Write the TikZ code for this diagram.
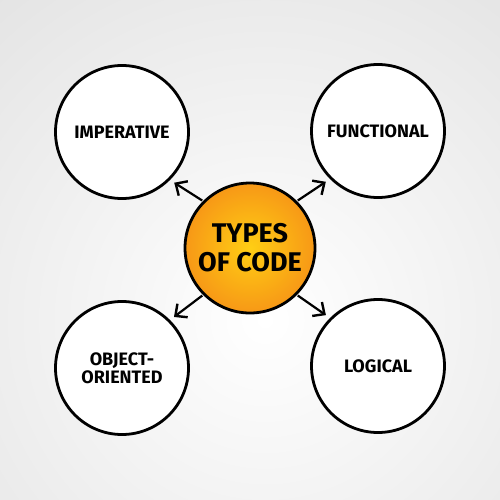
\documentclass[tikz,border=0pt]{standalone}
\usepackage{fontspec}
\setmainfont{Fira Sans}
\usetikzlibrary{arrows.meta}
\definecolor{bggray}{RGB}{214,214,214}
\definecolor{orin}{RGB}{255,206,20}
\definecolor{orout}{RGB}{247,152,22}
\tikzset{
  outer/.style={circle, draw=black, line width=2.8pt, fill=white, minimum size=133pt, inner sep=0pt, align=center, font=\bfseries\fontsize{18}{18}\selectfont},
  hub/.style={circle, draw=black, line width=2.8pt, minimum size=130pt, inner sep=0pt, align=center, inner color=orin, outer color=orout, font=\bfseries\fontsize{27}{29}\selectfont},
  conn/.style={line width=2.2pt, -{Straight Barb[length=9pt,width=17pt,line width=2.4pt]}, shorten >=5pt, shorten <=1pt}
}
\begin{document}
\begin{tikzpicture}[x=1pt,y=-1pt]
\useasboundingbox (0,0) rectangle (500,500);
\fill[bggray] (0,0) rectangle (500,500);
\begin{scope}
\clip (0,0) rectangle (500,500);
\shade[inner color=white, outer color=bggray] (265,320) circle (640);
\end{scope}
\node[hub] (c) at (250,248) {TYPES\\OF CODE};
\node[outer] (tl) at (122,132) {IMPERATIVE};
\node[outer] (tr) at (378,131) {FUNCTIONAL};
\node[outer] (bl) at (122,368) {OBJECT-\\ORIENTED};
\node[outer] (br) at (378,366) {LOGICAL};
\draw[conn] (c.135) -- (tl.-45);
\draw[conn] (c.45) -- (tr.-135);
\draw[conn] (c.-135) -- (bl.45);
\draw[conn] (c.-45) -- (br.135);
\end{tikzpicture}
\end{document}
